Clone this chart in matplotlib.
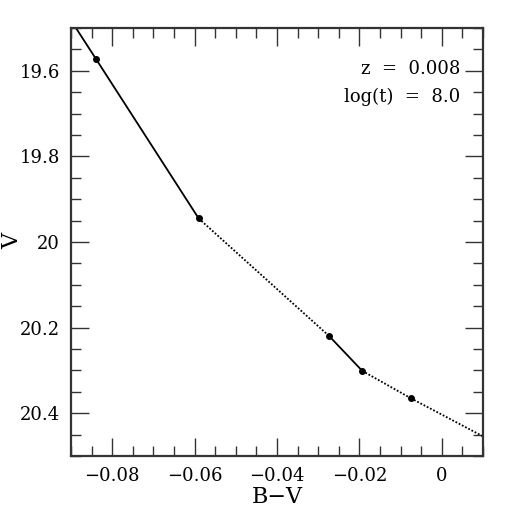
import matplotlib.pyplot as plt

# isochrone track
bv = [-0.0888, -0.0839, -0.0590, -0.0273, -0.0193, -0.0075, 0.0100]
vmag = [19.500, 19.573, 19.945, 20.220, 20.301, 20.365, 20.454]
# which segments are solid / dotted
styles = ['-', '-', (0, (1, 1)), '-', (0, (1, 1)), (0, (1, 1))]
dots = [1, 2, 3, 4, 5]

plt.rcParams['font.family'] = ['DejaVu Serif']

fig = plt.figure(figsize=(5.11, 5.11), dpi=100)
ax = fig.add_axes([0.139, 0.1076, 0.806, 0.8376])

for i in range(len(bv) - 1):
    ax.plot(bv[i:i + 2], vmag[i:i + 2], color='black', lw=1.3, linestyle=styles[i])
ax.plot([bv[i] for i in dots], [vmag[i] for i in dots], 'o', color='black', ms=4)

ax.set_xlim(-0.09, 0.01)
ax.set_ylim(20.5, 19.5)
ax.set_xticks([-0.08, -0.06, -0.04, -0.02, 0])
ax.set_xticklabels(['\u22120.08', '\u22120.06', '\u22120.04', '\u22120.02', '0'])
ax.set_yticks([19.6, 19.8, 20.0, 20.2, 20.4])
ax.set_yticklabels(['19.6', '19.8', '20', '20.2', '20.4'])
ax.set_xticks([x / 1000 for x in range(-90, 11, 5)], minor=True)
ax.set_yticks([19.5 + k * 0.05 for k in range(21)], minor=True)
ax.tick_params(which='both', direction='in', top=True, right=True, labelsize=13, color='#333333', width=1)
ax.tick_params(which='major', length=13, pad=8)
ax.tick_params(which='minor', length=7)
for s in ax.spines.values():
    s.set_linewidth(1.6)
    s.set_color('#333333')

# axis labels placed by hand
fig.text(0.542, 0.028, 'B\u2212V', fontsize=16, ha='center', va='center')
fig.text(0.024, 0.528, 'V', fontsize=16, ha='center', va='center', rotation=90)

ax.text(0.945, 0.905, 'z  =  0.008', transform=ax.transAxes, ha='right', va='center', fontsize=13)
ax.text(0.945, 0.84, 'log(t)  =  8.0', transform=ax.transAxes, ha='right', va='center', fontsize=13)

fig.savefig('out.png', dpi=100)
